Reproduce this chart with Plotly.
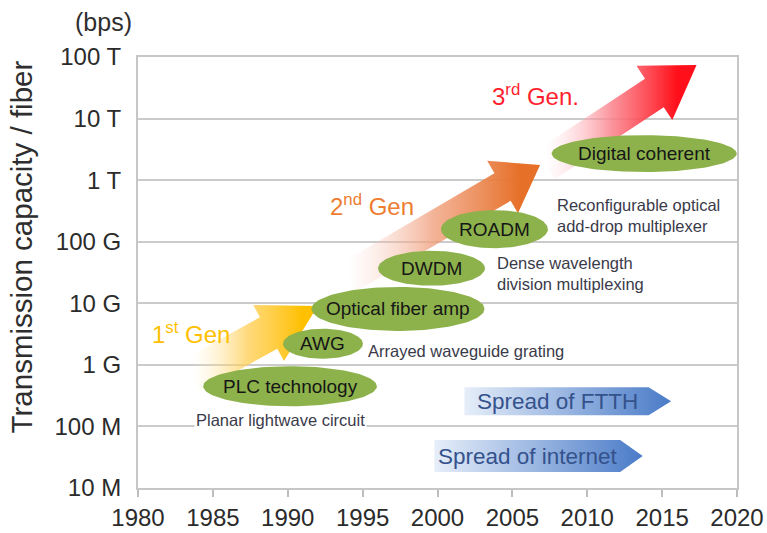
import numpy as np
import plotly.graph_objects as go

# ---------------- data ----------------
year_ticks = [1980, 1985, 1990, 1995, 2000, 2005, 2010, 2015, 2020]
cap_tickvals = [1e7, 1e8, 1e9, 1e10, 1e11, 1e12, 1e13, 1e14]
cap_ticktext = ["10 M", "100 M", "1 G", "10 G", "100 G", "1 T", "10 T", "100 T"]

tech_names = ["PLC technology", "AWG", "Optical fiber amp", "DWDM", "ROADM", "Digital coherent"]
tech_year = [1990.15, 1992.35, 1997.36, 1999.6, 2003.8, 2013.8]
tech_capacity = [4.5e8, 2.2e9, 8.1e9, 3.7e10, 1.6e11, 2.7e12]

desc_texts = ["Planar lightwave circuit", "Arrayed waveguide grating",
              "Dense wavelength<br>division multiplexing",
              "Reconfigurable optical<br>add-drop multiplexer"]
desc_year = [1989.5, 1995.25, 2003.85, 2007.85]
desc_capacity = [1.27e8, 1.68e9, 3.1e10, 2.62e11]

gen_labels = ["1<sup>st</sup> Gen", "2<sup>nd</sup> Gen", "3<sup>rd</sup> Gen."]
gen_start_year = [1983.6, 1994.0, 2007.2]
gen_start_cap = [6.8e8, 2.6e10, 1.76e12]
gen_end_year = [1992.0, 2006.85, 2017.3]
gen_end_cap = [9.0e9, 1.76e12, 7.4e13]
gen_label_year = [1983.55, 1995.65, 2006.55]
gen_label_cap = [3.3e9, 3.9e11, 2.4e13]

spread_labels = ["Spread of FTTH", "Spread of internet"]
spread_start = [2001.8, 1999.8]
spread_end = [2015.6, 2013.7]
spread_cap = [2.57e8, 3.3e7]

# ---------------- styles / sizes ----------------
FONT = "Liberation Sans, Arial, sans-serif"
KX, KY = 14.975, 61.57  # approx px per year / per decade (for shape geometry)
tech_rx = [5.8, 2.67, 5.78, 3.57, 3.57, 6.18]        # years
tech_ry = [0.325, 0.244, 0.357, 0.284, 0.309, 0.30]  # decades
ELLIPSE_COLOR = "#8DB24C"

gen_shaft = [18, 16, 17]
gen_head_half = [32, 30.5, 32.5]
gen_head_len = [56, 43.5, 50.6]
gen_colors = ["#FFC000", "#ED7D31", "#FF1F2F"]
gen_scales = [
    [[0, "rgba(255,235,180,0)"], [0.5, "rgba(255,205,80,0.75)"], [1, "rgba(255,192,0,1)"]],
    [[0, "rgba(250,205,195,0)"], [0.5, "rgba(240,160,125,0.8)"], [1, "rgba(230,112,40,1)"]],
    [[0, "rgba(255,205,210,0)"], [0.5, "rgba(250,130,140,0.85)"], [1, "rgba(255,15,25,1)"]],
]
gen_grad_stop = [1991.0, 2005.5, 2016.0]

SPREAD_HALF = [0.227, 0.26]
SPREAD_POINT = 1.5

fig = go.Figure()


def to_frame(year, cap):
    return np.array([year * KX, np.log10(cap) * KY])


def from_frame(p):
    return p[0] / KX, 10 ** (p[1] / KY)


# generation arrows
for i in range(len(gen_labels)):
    p0 = to_frame(gen_start_year[i], gen_start_cap[i])
    p1 = to_frame(gen_end_year[i], gen_end_cap[i])
    d = p1 - p0
    d = d / np.linalg.norm(d)
    n = np.array([-d[1], d[0]])
    base = p1 - d * gen_head_len[i]
    sh, hh = gen_shaft[i], gen_head_half[i]
    pts = [p0 + n * sh, base + n * sh, base + n * hh, p1, base - n * hh, base - n * sh, p0 - n * sh, p0 + n * sh]
    xs, ys = zip(*[from_frame(p) for p in pts])
    fig.add_trace(go.Scatter(
        x=list(xs), y=list(ys), mode="lines", fill="toself",
        line=dict(width=0, color="rgba(0,0,0,0)"),
        fillgradient=dict(type="horizontal", colorscale=gen_scales[i],
                          start=gen_start_year[i], stop=gen_grad_stop[i]),
        hoverinfo="skip"))

# spread chevrons
for i in range(len(spread_labels)):
    lc = np.log10(spread_cap[i])
    top, bot = 10 ** (lc + SPREAD_HALF[i]), 10 ** (lc - SPREAD_HALF[i])
    xr = spread_end[i] - SPREAD_POINT
    fig.add_trace(go.Scatter(
        x=[spread_start[i], xr, spread_end[i], xr, spread_start[i], spread_start[i]],
        y=[top, top, spread_cap[i], bot, bot, top],
        mode="lines", fill="toself", line=dict(width=0, color="rgba(0,0,0,0)"),
        fillgradient=dict(type="horizontal",
                          colorscale=[[0, "#E6EEF9"], [1, "#4A7BC8"]],
                          start=spread_start[i], stop=spread_end[i]),
        hoverinfo="skip"))

# technology ellipses
t = np.linspace(0, 2 * np.pi, 120)
for i in range(len(tech_names)):
    ex = tech_year[i] + tech_rx[i] * np.cos(t)
    ey = 10 ** (np.log10(tech_capacity[i]) + tech_ry[i] * np.sin(t))
    fig.add_trace(go.Scatter(
        x=ex, y=ey, mode="lines", fill="toself", fillcolor=ELLIPSE_COLOR,
        line=dict(width=0, color=ELLIPSE_COLOR), hoverinfo="skip"))

annotations = []
for i, name in enumerate(tech_names):
    annotations.append(dict(x=tech_year[i], y=np.log10(tech_capacity[i]), text=name,
                            showarrow=False, font=dict(size=19, color="#161616", family=FONT),
                            xanchor="center", yanchor="middle"))

desc_anchor = ["center", "left", "left", "left"]
for i, txt in enumerate(desc_texts):
    annotations.append(dict(x=desc_year[i], y=np.log10(desc_capacity[i]), text=txt,
                            showarrow=False, align="left",
                            font=dict(size=16.5, color="#3a3a4a", family=FONT),
                            bgcolor="white" if i == 0 else None,
                            xanchor=desc_anchor[i], yanchor="middle"))

for i, txt in enumerate(gen_labels):
    annotations.append(dict(x=gen_label_year[i], y=np.log10(gen_label_cap[i]), text=txt,
                            showarrow=False, font=dict(size=24, color=gen_colors[i], family=FONT),
                            xanchor="center", yanchor="middle"))

for i, txt in enumerate(spread_labels):
    mid = (spread_start[i] + spread_end[i] - SPREAD_POINT) / 2
    annotations.append(dict(x=mid + 0.05, y=np.log10(spread_cap[i]), text=txt,
                            showarrow=False, font=dict(size=22.5, color="#34528c", family=FONT),
                            xanchor="center", yanchor="middle"))

annotations.append(dict(xref="paper", yref="paper", x=-0.194, y=0.56,
                        text="Transmission capacity / fiber", textangle=-90, showarrow=False,
                        font=dict(size=29.5, color="#2e2e2e", family=FONT),
                        xanchor="center", yanchor="middle"))
annotations.append(dict(xref="paper", yref="paper", x=-0.058, y=1.081, text="(bps)",
                        showarrow=False, font=dict(size=25, color="#2e2e2e", family=FONT),
                        xanchor="center", yanchor="middle"))

fig.update_layout(
    width=767, height=533,
    margin=dict(l=138, r=30, t=57, b=45, autoexpand=False),
    plot_bgcolor="white", paper_bgcolor="white",
    showlegend=False,
    font=dict(family=FONT, color="#2e2e2e"),
    annotations=annotations,
    xaxis=dict(range=[1980, 2020], tickvals=year_ticks, ticks="outside", ticklen=7,
               tickcolor="#BDBDBD", tickwidth=1.5, showgrid=False, zeroline=False,
               showline=True, linecolor="#C6C6C6", linewidth=2, mirror=True, automargin=False,
               tickfont=dict(size=24, color="#2b2b2b", family=FONT)),
    yaxis=dict(type="log", range=[7, 14], tickvals=cap_tickvals, ticktext=cap_ticktext,
               showgrid=True, gridcolor="#CBCBCB", gridwidth=2, zeroline=False,
               showline=True, linecolor="#C6C6C6", linewidth=2, mirror=True, automargin=False,
               ticks="", ticklabelstandoff=10,
               tickfont=dict(size=24, color="#2b2b2b", family=FONT)),
)

fig.write_html("out.html", config={"displayModeBar": False},
               post_script="document.body.style.margin='0';document.body.style.overflow='hidden';")
